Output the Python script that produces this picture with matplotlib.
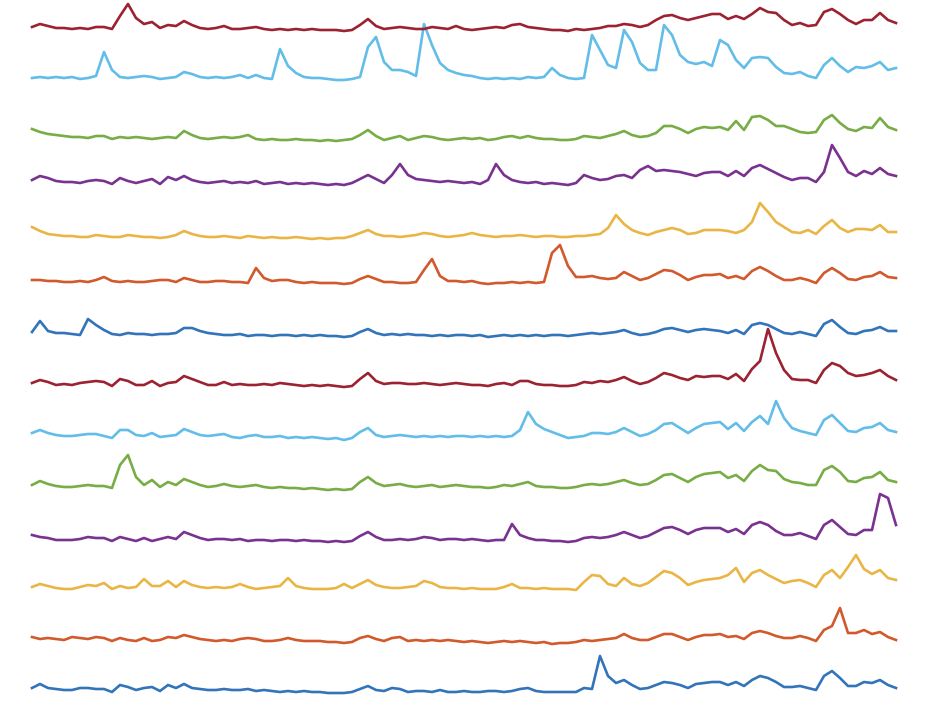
import matplotlib
matplotlib.use("Agg")
import matplotlib.pyplot as plt
import numpy as np

# fluorescence traces (arbitrary units), one list per cell, bottom to top
cell_01 = [1, 5, 1, 0, -1, -1, 1, 1, 0, 0, -3, 4, 2, -1, 1, 2, -2, 4, 1, 5,
           1, 0, -1, -1, 0, -1, -1, 0, -2, -1, -2, -3, -2, -3, -2, -3, -3, -4, -4, -4,
           -3, 0, 3, -1, -2, 1, 0, -3, -2, -2, -3, -1, -3, -3, -2, -3, -3, -2, -2, -3,
           -2, 0, 1, -2, -3, -3, -3, -3, -3, 1, 0, 33, 13, 6, 9, 4, 0, 1, 4, 7,
           6, 4, 1, 5, 6, 7, 7, 4, 7, 3, 9, 13, 11, 7, 2, 2, 3, 1, -1, 13,
           18, 11, 3, 3, 7, 6, 9, 4, 1]
cell_02 = [1, -1, 0, -1, -2, 1, 0, -1, 1, 0, -3, 0, -2, -3, 0, -3, -2, 1, 0, 3,
           1, -1, -2, -3, -2, -3, -1, 0, -1, -3, -3, -2, 0, -2, -3, -3, -3, -4, -4, -5,
           -4, 0, 2, -1, -3, 0, 1, -3, -2, -3, -2, -3, -2, -3, -4, -3, -4, -5, -4, -3,
           -4, -3, -4, -5, -4, -6, -5, -5, -4, -2, -3, -2, -1, 0, 4, 0, -2, -2, 1, 4,
           4, 1, -2, 1, 3, 3, 4, 1, 2, -1, 5, 7, 5, 2, 0, 0, 2, 0, -3, 8,
           12, 30, 5, 5, 8, 4, 6, 1, -2]
cell_03 = [0, 3, 1, -1, -2, -2, 0, 2, 1, 4, -2, 1, -1, 0, 8, 1, 1, 6, 0, 6,
           2, 0, -1, 0, -1, 0, 3, 0, -2, -1, 0, 1, 9, 1, -1, -2, -2, -2, -1, 3,
           -1, 3, 7, 2, 0, -1, -1, 0, 1, 6, 4, 0, -1, -1, -2, -1, -2, -2, -2, 0,
           3, -1, -1, -2, -1, -2, -2, -2, -3, 5, 12, 11, 3, 1, 9, 3, 1, 4, 10, 16,
           14, 9, 2, 5, 7, 8, 9, 12, 19, 5, 14, 17, 12, 8, 4, 6, 7, 4, 0, 12,
           17, 9, 20, 32, 18, 13, 17, 9, 7]
cell_04 = [1, -1, -2, -4, -4, -4, -3, -1, -2, -2, -5, -1, -3, -5, -2, -5, -3, -1, -3, 4,
           1, -2, -4, -3, -3, -4, -3, -5, -4, -4, -5, -4, -4, -5, -4, -5, -5, -6, -5, -6,
           -5, 0, 4, -1, -4, -4, -3, -4, -3, -1, -2, -4, -3, -3, -4, -3, -4, -5, -4, -4,
           12, 1, -2, -4, -4, -5, -5, -6, -5, -2, -1, -2, -1, 1, 4, 1, -2, 0, 4, 8,
           9, 6, 2, 6, 8, 8, 8, 4, 7, 2, 11, 14, 11, 5, 1, 1, 3, 0, -3, 11,
           16, 9, 2, 1, 6, 6, 42, 38, 11]
cell_05 = [0, 4, 1, -1, -2, -2, -1, 0, -1, -1, -3, 20, 30, 8, 0, 5, -2, 3, 0, 6,
           3, 0, -2, -1, 1, -1, -2, -1, 0, -2, -3, -2, -3, -3, -4, -3, -4, -5, -4, -5,
           -4, 3, 8, 2, -1, 0, 1, -1, -2, -1, 0, -2, -1, 0, -1, -2, -2, -3, -2, 0,
           -1, 1, 3, -1, -2, -2, -3, -3, -2, 0, 1, 0, 1, 3, 5, 2, 0, 1, 5, 10,
           11, 7, 3, 8, 11, 12, 13, 7, 10, 4, 14, 20, 15, 14, 6, 3, 2, 0, 0, 15,
           19, 13, 4, 3, 7, 8, 13, 5, 3]
cell_06 = [1, 4, 1, -1, -2, -2, -1, 0, 0, -2, -4, 4, 4, -1, -2, 1, -3, -2, -1, 5,
           2, -1, -2, -1, 0, -3, -4, -2, -1, -3, -3, -2, -4, -3, -4, -3, -4, -5, -4, -6,
           -4, 2, 6, -1, -3, -2, -1, -2, -3, -2, -3, -2, -3, -2, -2, -3, -2, -3, -2, -3,
           -2, 4, 22, 10, 5, 2, -1, -4, -3, -2, 1, 1, 0, 2, 6, 2, -2, 0, 4, 10,
           11, 6, 1, 6, 10, 11, 12, 5, 11, 3, 12, 18, 10, 33, 16, 6, 3, 1, -1, 14,
           19, 11, 3, 2, 6, 7, 11, 4, 2]
cell_07 = [0, 3, 1, -2, -1, -2, 0, 1, 2, 1, -3, 4, 2, -2, -2, 2, -3, 0, 1, 7,
           4, 1, -2, -2, 1, -2, -1, -2, -2, -1, -2, 0, -1, -2, -3, -2, -3, -2, -3, -4,
           -3, 4, 10, 2, -1, 0, 0, -1, -1, 0, -1, -2, -1, 0, -1, -2, -2, -3, -1, 0,
           -2, 2, 2, -1, -2, -2, -3, -3, -2, 1, 0, 2, 1, 3, 6, 2, -1, 1, 5, 10,
           8, 5, 3, 7, 6, 7, 7, 4, 9, 2, 14, 22, 54, 30, 13, 4, 3, 3, 0, 13,
           20, 17, 10, 7, 8, 10, 13, 7, 3]
cell_08 = [0, 11, 1, -1, -1, -2, -3, 13, 7, 2, -2, -3, -1, -2, -2, -3, -2, -2, -1, 4,
           4, 1, -1, -2, -3, -3, -2, -4, -3, -3, -4, -3, -3, -4, -3, -4, -3, -4, -4, -5,
           -4, 0, 3, -1, -3, -2, -3, -2, -3, -3, -4, -3, -4, -3, -3, -4, -3, -5, -4, -3,
           -4, -3, -4, -3, -4, -3, -3, -4, -3, -2, -1, -2, -1, 0, 2, -1, -3, -2, 0, 3,
           4, 2, 0, 2, 3, 2, 1, -1, 2, -2, 7, 9, 7, 3, -1, -2, 0, -2, -4, 8,
           12, 5, -1, -2, 1, 2, 5, 1, 1]
cell_09 = [1, 1, 0, 0, -1, -1, 0, -1, 1, 4, 0, -1, 0, -1, -1, 0, 1, 1, -1, 3,
           1, -1, -1, 0, 0, -1, -1, -2, 13, 3, 0, 1, 1, -1, -2, -1, -2, -2, -2, -3,
           -2, 2, 5, 2, -1, -1, -2, -2, -1, 11, 22, 5, 0, 0, -1, 0, -2, -3, -2, -2,
           -1, -2, -1, -2, -1, 28, 36, 15, 4, 4, 5, 3, 2, 3, 9, 5, 1, 3, 7, 11,
           10, 6, 1, 4, 6, 6, 7, 3, 5, 2, 10, 14, 10, 5, 1, 1, 3, 1, -2, 8,
           13, 8, 2, 1, 4, 5, 9, 4, 3]
cell_10 = [3, -1, -4, -5, -6, -6, -7, -7, -5, -6, -7, -7, -5, -6, -7, -7, -8, -7, -5, -1,
           -4, -6, -7, -7, -6, -7, -8, -6, -7, -8, -7, -8, -8, -7, -8, -9, -8, -9, -8, -8,
           -6, -3, 0, -4, -6, -6, -7, -6, -5, -3, -4, -6, -7, -6, -5, -3, -5, -6, -7, -6,
           -6, -5, -6, -7, -6, -6, -7, -7, -6, -6, -5, -4, 2, 15, 6, 0, -3, -5, -2, 0,
           2, 0, -4, -3, 0, 0, 0, -1, -3, 0, 8, 27, 18, 8, 3, -2, -3, 0, -4, 4,
           10, 2, -2, 1, 1, 0, 5, -2, -2]
cell_11 = [-1, 3, 1, -2, -3, -3, -4, -2, -1, -2, -5, 1, -2, -4, -2, 0, -5, 2, -1, 3,
           -1, -3, -4, -3, -2, -4, -3, -4, -2, -5, -4, -3, -5, -4, -5, -4, -5, -6, -5, -6,
           -4, 0, 4, 0, -4, 4, 15, 4, 0, -1, -2, -3, -2, -3, -4, -3, -5, -1, 15, 4,
           -1, -3, -4, -3, -5, -4, -5, -6, -4, 4, 1, -1, 0, 3, 4, 1, 9, 13, 8, 9,
           8, 7, 5, 3, 6, 7, 7, 3, 8, 3, 11, 14, 10, 6, 2, -1, 1, 1, -3, 7,
           34, 21, 7, 3, 8, 5, 11, 5, 3]
cell_12 = [-1, -4, -6, -7, -8, -9, -9, -10, -8, -8, -11, -9, -10, -9, -10, -11, -10, -9, -10, -3,
           -7, -10, -11, -10, -9, -10, -9, -7, -11, -12, -11, -12, -12, -11, -12, -12, -13, -12, -13, -12,
           -11, -7, -2, -8, -12, -10, -8, -12, -10, -8, -9, -11, -12, -11, -10, -11, -10, -12, -11, -9,
           -8, -10, -8, -10, -11, -11, -12, -12, -11, -8, -9, -10, -8, -6, -3, -7, -9, -8, -5, 2,
           2, -1, -5, -1, 1, 0, 1, -2, 7, -2, 11, 12, 8, 2, 2, -1, -4, -5, -4, 8,
           13, 5, -1, -3, 1, 0, 10, 1, -2]
cell_13 = [-1, 0, -1, 0, -1, 0, -2, -1, 1, 25, 7, 0, -1, 0, 1, 0, -2, -1, 0, 5,
           3, 0, -1, 0, -1, 0, 2, -1, 2, -1, -2, 28, 11, 4, 0, -1, -1, -2, -3, -3,
           -2, 0, 30, 40, 15, 7, 7, 5, 1, 53, 32, 14, 7, 4, 2, 1, -1, -2, -1, -2,
           -1, -2, 0, -1, 0, 9, 2, -1, -2, -1, 42, 27, 12, 9, 47, 35, 14, 7, 7, 52,
           42, 22, 15, 13, 15, 11, 37, 32, 17, 9, 19, 20, 19, 10, 4, 3, 5, 1, -1, 12,
           19, 11, 5, 10, 9, 11, 15, 7, 9]
cell_14 = [-1, 2, 0, -2, -2, -3, -2, -3, -1, -1, -3, 10, 22, 8, 2, 4, -2, 1, 0, 5,
           1, -2, -3, -2, 0, -3, -3, -2, -1, -3, -4, -3, -4, -3, -4, -3, -4, -4, -4, -5,
           -4, 1, 7, 0, -3, -2, -1, -2, -3, -3, -1, -2, -3, 0, -3, -4, -3, -2, -1, -2,
           1, 2, -1, -2, -3, -4, -4, -5, -3, -4, -3, -2, 0, 0, 2, 1, -1, 1, 6, 10,
           11, 8, 6, 8, 10, 12, 12, 7, 10, 7, 12, 18, 14, 13, 6, 1, 3, 0, 1, 14,
           17, 12, 6, 2, 6, 6, 13, 6, 3]

traces = [cell_01, cell_02, cell_03, cell_04, cell_05, cell_06, cell_07,
          cell_08, cell_09, cell_10, cell_11, cell_12, cell_13, cell_14]

# colour order (MATLAB-like, a bit softer as in the figure)
colors = ['#3274BA', '#D2592C', '#E9B646', '#7A3290', '#78AD45', '#62BDE8', '#9C2232']
spacing = 51

fig = plt.figure(figsize=(9.36, 7.02), dpi=100)
ax = fig.add_axes([0, 0, 1, 1])
frames = np.arange(len(cell_01))
for k, tr in enumerate(traces):
    ax.plot(frames, np.array(tr) + k * spacing, color=colors[k % 7], lw=1.9,
            solid_joinstyle='round')

ax.set_xlim(-4, 113)
ax.set_ylim(-13, 689)
ax.axis('off')
fig.savefig('out.png', dpi=100, facecolor='white')
plt.close(fig)
